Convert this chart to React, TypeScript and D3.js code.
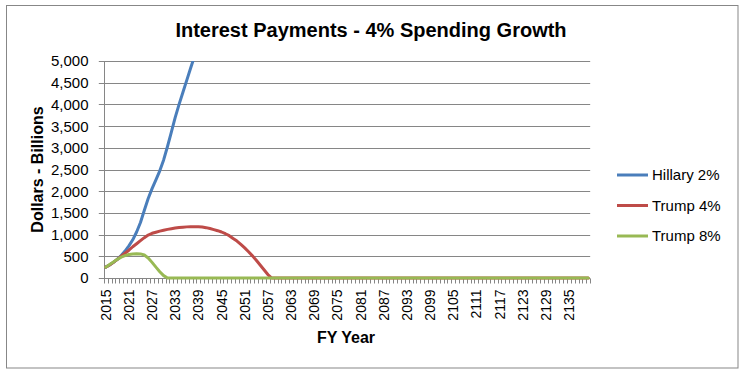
import React, { useEffect } from "react";
import * as d3 from "d3";

const title = "Interest Payments - 4% Spending Growth";
const yAxisTitle = "Dollars - Billions";
const xAxisTitle = "FY Year";

const years: number[] = d3.range(2015, 2141);
const yTicks = [0, 500, 1000, 1500, 2000, 2500, 3000, 3500, 4000, 4500, 5000];
const xLabelStep = 6;

const seriesNames = ["Hillary 2%", "Trump 4%", "Trump 8%"];
const seriesColors = ["#4A7EBB", "#BE4B48", "#98B954"];

// Hillary 2% (2015..2039; continues off the top of the chart)
const hillary2 = [
  250, 300, 360, 430, 520, 620, 740, 880, 1060, 1280,
  1560, 1830, 2060, 2260, 2470, 2720, 3030, 3360, 3700, 4000,
  4280, 4560, 4840, 5110, 5400,
];

// Trump 4% (2015..2140)
const trump4 = [
  250, 300, 360, 430, 500, 570, 640, 720, 790, 860,
  930, 990, 1030, 1055, 1080, 1100, 1120, 1135, 1150, 1162,
  1172, 1178, 1182, 1183, 1180, 1175, 1160, 1140, 1115, 1090,
  1060, 1020, 975, 910, 850, 775, 695, 605, 510, 410,
  300, 190, 80, 0,
  0, 0, 0, 0, 0, 0, 0, 0, 0, 0,
  0, 0, 0, 0, 0, 0, 0, 0, 0, 0,
  0, 0, 0, 0, 0, 0, 0, 0, 0, 0,
  0, 0, 0, 0, 0, 0, 0, 0, 0, 0,
  0, 0, 0, 0, 0, 0, 0, 0, 0, 0,
  0, 0, 0, 0, 0, 0, 0, 0, 0, 0,
  0, 0, 0, 0, 0, 0, 0, 0, 0, 0,
  0, 0, 0, 0, 0, 0, 0, 0, 0, 0,
  0, 0,
];

// Trump 8% (2015..2140)
const trump8 = [
  250, 310, 370, 430, 480, 515, 540, 555, 560, 555,
  530, 460, 360, 250, 145, 55, 0,
  0, 0, 0, 0, 0, 0, 0, 0, 0, 0,
  0, 0, 0, 0, 0, 0, 0, 0, 0, 0,
  0, 0, 0, 0, 0, 0, 0, 0, 0, 0,
  0, 0, 0, 0, 0, 0, 0, 0, 0, 0,
  0, 0, 0, 0, 0, 0, 0, 0, 0, 0,
  0, 0, 0, 0, 0, 0, 0, 0, 0, 0,
  0, 0, 0, 0, 0, 0, 0, 0, 0, 0,
  0, 0, 0, 0, 0, 0, 0, 0, 0, 0,
  0, 0, 0, 0, 0, 0, 0, 0, 0, 0,
  0, 0, 0, 0, 0, 0, 0, 0, 0, 0,
  0, 0, 0, 0, 0, 0, 0, 0, 0,
];

const seriesValues = [hillary2, trump4, trump8];

export default function App() {
  useEffect(() => {
    document.body.style.margin = "0";
  }, []);

  const W = 746;
  const H = 374;
  const plotLeft = 103.8;
  const plotRight = 590.2;
  const plotTop = 61;
  const plotBottom = 278;

  const x = d3
    .scaleBand<number>()
    .domain(years)
    .range([plotLeft, plotRight])
    .paddingInner(0)
    .paddingOuter(0);
  const bw = x.bandwidth();
  const cx = (yr: number) => (x(yr) as number) + bw / 2;
  const y = d3.scaleLinear().domain([0, 5000]).range([plotBottom, plotTop]);
  const fmt = d3.format(",");

  const line = d3
    .line<number>()
    .x((_, i) => cx(years[i]))
    .y((v) => y(v));

  const font = "'Liberation Sans', Arial, sans-serif";
  const grid = "#868686";

  const boundaries = d3.range(0, years.length + 1).map((i) => plotLeft + i * bw);

  return (
    <svg
      width={W}
      height={H}
      style={{ position: "absolute", left: 0, top: 0, display: "block" }}
      fontFamily={font}
    >
      <rect x={0} y={0} width={W} height={H} fill="#fff" />
      <rect x={6.5} y={5.5} width={731.5} height={362.5} fill="#fff" stroke="#878787" strokeWidth={1} />

      <text x={371} y={37} textAnchor="middle" fontSize={20} fontWeight="bold" fill="#000">
        {title}
      </text>

      <defs>
        <clipPath id="plotClip">
          <rect x={plotLeft - 2} y={plotTop} width={plotRight - plotLeft + 4} height={plotBottom - plotTop + 3} />
        </clipPath>
      </defs>

      {/* gridlines */}
      {yTicks.map((t) => (
        <line
          key={"g" + t}
          x1={plotLeft - 5}
          x2={plotRight}
          y1={Math.round(y(t)) + 0.5}
          y2={Math.round(y(t)) + 0.5}
          stroke={grid}
          strokeWidth={1}
        />
      ))}
      {/* y axis */}
      <line x1={Math.round(plotLeft) + 0.5} x2={Math.round(plotLeft) + 0.5} y1={plotTop} y2={plotBottom + 5} stroke={grid} />
      {/* x ticks */}
      {boundaries.map((bx, i) => (
        <line
          key={"t" + i}
          x1={Math.round(bx) + 0.5}
          x2={Math.round(bx) + 0.5}
          y1={Math.round(plotBottom) + 0.5}
          y2={Math.round(plotBottom) + 5.5}
          stroke={grid}
        />
      ))}

      {/* y tick labels */}
      {yTicks.map((t) => (
        <text key={"yl" + t} x={88.5} y={y(t)} dy="0.36em" textAnchor="end" fontSize={15} fill="#000">
          {fmt(t)}
        </text>
      ))}

      {/* x tick labels */}
      {years
        .filter((_, i) => i % xLabelStep === 0)
        .map((yr) => (
          <text
            key={"xl" + yr}
            transform={`translate(${cx(yr)},${289.5}) rotate(-90)`}
            dy="0.36em"
            textAnchor="end"
            fontSize={14}
            fill="#000"
          >
            {yr}
          </text>
        ))}

      <text
        transform={`translate(37,${(plotTop + plotBottom) / 2}) rotate(-90)`}
        dy="0.36em"
        textAnchor="middle"
        fontSize={16}
        fontWeight="bold"
        fill="#000"
      >
        {yAxisTitle}
      </text>
      <text x={346} y={343} textAnchor="middle" fontSize={16} fontWeight="bold" fill="#000">
        {xAxisTitle}
      </text>

      {/* series */}
      <g clipPath="url(#plotClip)">
        {seriesValues.map((vals, si) => (
          <path
            key={"s" + si}
            d={line(vals) || ""}
            fill="none"
            stroke={seriesColors[si]}
            strokeWidth={3}
            strokeLinejoin="round"
            strokeLinecap="round"
          />
        ))}
      </g>

      {/* legend */}
      {seriesNames.map((name, si) => {
        const ly = 175 + si * 30.5;
        return (
          <g key={"lg" + si}>
            <line x1={617} x2={648} y1={ly} y2={ly} stroke={seriesColors[si]} strokeWidth={3} />
            <text x={652} y={ly} dy="0.36em" fontSize={15} fill="#000">
              {name}
            </text>
          </g>
        );
      })}
    </svg>
  );
}
